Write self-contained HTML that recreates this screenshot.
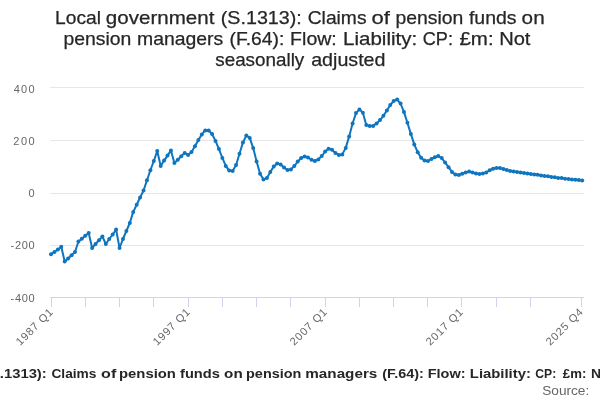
<!DOCTYPE html>
<html><head><meta charset="utf-8"><style>
html,body{margin:0;padding:0;background:#fff;width:600px;height:400px;overflow:hidden}
svg{display:block;will-change:transform}
text{font-family:"Liberation Sans",sans-serif}
</style></head><body>
<svg width="600" height="400" viewBox="0 0 600 400">
<rect width="600" height="400" fill="#fff"/>
<g stroke="#e6e6e6" stroke-width="1" fill="none"><path d="M50 87.5 H584"/><path d="M50 140.5 H584"/><path d="M50 193.5 H584"/><path d="M50 245.5 H584"/></g>
<g stroke="#ccd6eb" stroke-width="1" fill="none"><path d="M50 297.5 H584"/><path d="M51.5 297 V307"/><path d="M85.5 297 V307"/><path d="M119.5 297 V307"/><path d="M153.5 297 V307"/><path d="M188.5 297 V307"/><path d="M222.5 297 V307"/><path d="M256.5 297 V307"/><path d="M290.5 297 V307"/><path d="M325.5 297 V307"/><path d="M359.5 297 V307"/><path d="M393.5 297 V307"/><path d="M427.5 297 V307"/><path d="M461.5 297 V307"/><path d="M496.5 297 V307"/><path d="M530.5 297 V307"/><path d="M581.5 297 V307"/></g>
<g font-size="11" fill="#666666" text-anchor="end"><text transform="translate(53.60 312.8) rotate(-45)" x="0" y="0" textLength="47" lengthAdjust="spacing">1987 Q1</text><text transform="translate(190.60 312.8) rotate(-45)" x="0" y="0" textLength="47" lengthAdjust="spacing">1997 Q1</text><text transform="translate(327.60 312.8) rotate(-45)" x="0" y="0" textLength="47" lengthAdjust="spacing">2007 Q1</text><text transform="translate(463.60 312.8) rotate(-45)" x="0" y="0" textLength="47" lengthAdjust="spacing">2017 Q1</text><text transform="translate(583.60 312.8) rotate(-45)" x="0" y="0" textLength="47" lengthAdjust="spacing">2025 Q4</text></g>
<path d="M51.00 254.20 L54.43 252.00 L57.85 249.50 L61.28 246.80 L64.71 261.50 L68.14 258.50 L71.56 255.20 L74.99 252.00 L78.42 241.50 L81.84 238.80 L85.27 235.80 L88.70 233.00 L92.13 248.00 L95.55 244.00 L98.98 240.30 L102.41 236.50 L105.83 244.00 L109.26 239.00 L112.69 234.50 L116.11 229.50 L119.54 248.00 L122.97 239.00 L126.40 231.00 L129.82 222.90 L133.25 211.90 L136.68 204.75 L140.10 197.50 L143.53 190.60 L146.96 180.30 L150.39 170.25 L153.81 161.00 L157.24 151.00 L160.67 166.00 L164.09 160.60 L167.52 155.60 L170.95 150.40 L174.38 162.90 L177.80 159.75 L181.23 156.25 L184.66 152.90 L188.08 155.00 L191.51 151.90 L194.94 146.25 L198.37 140.00 L201.79 134.40 L205.22 130.40 L208.65 130.40 L212.07 134.00 L215.50 140.90 L218.93 149.00 L222.35 157.90 L225.78 165.90 L229.21 170.60 L232.64 171.00 L236.06 165.00 L239.49 153.75 L242.92 142.50 L246.34 135.60 L249.77 137.90 L253.20 148.10 L256.63 161.50 L260.05 173.75 L263.48 179.60 L266.91 177.90 L270.33 171.90 L273.76 166.50 L277.19 163.50 L280.62 164.40 L284.04 167.50 L287.47 170.00 L290.90 169.40 L294.32 166.00 L297.75 161.60 L301.18 158.00 L304.61 156.50 L308.03 157.50 L311.46 159.75 L314.89 161.00 L318.31 159.40 L321.74 156.00 L325.17 151.60 L328.59 148.75 L332.02 149.75 L335.45 152.90 L338.88 155.00 L342.30 154.40 L345.73 147.90 L349.16 136.40 L352.58 123.50 L356.01 113.10 L359.44 109.40 L362.87 112.75 L366.29 125.00 L369.72 126.00 L373.15 125.90 L376.57 123.50 L380.00 120.10 L383.43 115.80 L386.86 110.50 L390.28 104.90 L393.71 101.00 L397.14 99.60 L400.56 103.50 L403.99 112.10 L407.42 122.75 L410.85 133.90 L414.27 144.40 L417.70 152.25 L421.13 157.75 L424.55 160.60 L427.98 161.00 L431.41 159.00 L434.83 157.25 L438.26 156.00 L441.69 158.10 L445.12 162.50 L448.54 167.20 L451.97 171.90 L455.40 174.50 L458.82 175.00 L462.25 173.75 L465.68 172.50 L469.11 171.60 L472.53 172.50 L475.96 173.50 L479.39 174.10 L482.81 173.50 L486.24 172.50 L489.67 170.25 L493.10 168.75 L496.52 167.90 L499.95 168.10 L503.38 169.00 L506.80 170.00 L510.23 171.00 L513.66 171.60 L517.09 172.10 L520.51 172.50 L523.94 172.90 L527.37 173.40 L530.79 174.00 L534.22 174.60 L537.65 174.75 L541.07 175.40 L544.50 175.90 L547.93 176.25 L551.36 177.00 L554.78 177.25 L558.21 177.90 L561.64 178.10 L565.06 178.75 L568.49 179.00 L571.92 179.60 L575.35 179.75 L578.77 180.00 L582.20 180.60" fill="none" stroke="#0f75bf" stroke-width="2" stroke-linejoin="round" stroke-linecap="round"/>
<g fill="#0f75bf"><circle cx="51.00" cy="254.20" r="2"/><circle cx="54.43" cy="252.00" r="2"/><circle cx="57.85" cy="249.50" r="2"/><circle cx="61.28" cy="246.80" r="2"/><circle cx="64.71" cy="261.50" r="2"/><circle cx="68.14" cy="258.50" r="2"/><circle cx="71.56" cy="255.20" r="2"/><circle cx="74.99" cy="252.00" r="2"/><circle cx="78.42" cy="241.50" r="2"/><circle cx="81.84" cy="238.80" r="2"/><circle cx="85.27" cy="235.80" r="2"/><circle cx="88.70" cy="233.00" r="2"/><circle cx="92.13" cy="248.00" r="2"/><circle cx="95.55" cy="244.00" r="2"/><circle cx="98.98" cy="240.30" r="2"/><circle cx="102.41" cy="236.50" r="2"/><circle cx="105.83" cy="244.00" r="2"/><circle cx="109.26" cy="239.00" r="2"/><circle cx="112.69" cy="234.50" r="2"/><circle cx="116.11" cy="229.50" r="2"/><circle cx="119.54" cy="248.00" r="2"/><circle cx="122.97" cy="239.00" r="2"/><circle cx="126.40" cy="231.00" r="2"/><circle cx="129.82" cy="222.90" r="2"/><circle cx="133.25" cy="211.90" r="2"/><circle cx="136.68" cy="204.75" r="2"/><circle cx="140.10" cy="197.50" r="2"/><circle cx="143.53" cy="190.60" r="2"/><circle cx="146.96" cy="180.30" r="2"/><circle cx="150.39" cy="170.25" r="2"/><circle cx="153.81" cy="161.00" r="2"/><circle cx="157.24" cy="151.00" r="2"/><circle cx="160.67" cy="166.00" r="2"/><circle cx="164.09" cy="160.60" r="2"/><circle cx="167.52" cy="155.60" r="2"/><circle cx="170.95" cy="150.40" r="2"/><circle cx="174.38" cy="162.90" r="2"/><circle cx="177.80" cy="159.75" r="2"/><circle cx="181.23" cy="156.25" r="2"/><circle cx="184.66" cy="152.90" r="2"/><circle cx="188.08" cy="155.00" r="2"/><circle cx="191.51" cy="151.90" r="2"/><circle cx="194.94" cy="146.25" r="2"/><circle cx="198.37" cy="140.00" r="2"/><circle cx="201.79" cy="134.40" r="2"/><circle cx="205.22" cy="130.40" r="2"/><circle cx="208.65" cy="130.40" r="2"/><circle cx="212.07" cy="134.00" r="2"/><circle cx="215.50" cy="140.90" r="2"/><circle cx="218.93" cy="149.00" r="2"/><circle cx="222.35" cy="157.90" r="2"/><circle cx="225.78" cy="165.90" r="2"/><circle cx="229.21" cy="170.60" r="2"/><circle cx="232.64" cy="171.00" r="2"/><circle cx="236.06" cy="165.00" r="2"/><circle cx="239.49" cy="153.75" r="2"/><circle cx="242.92" cy="142.50" r="2"/><circle cx="246.34" cy="135.60" r="2"/><circle cx="249.77" cy="137.90" r="2"/><circle cx="253.20" cy="148.10" r="2"/><circle cx="256.63" cy="161.50" r="2"/><circle cx="260.05" cy="173.75" r="2"/><circle cx="263.48" cy="179.60" r="2"/><circle cx="266.91" cy="177.90" r="2"/><circle cx="270.33" cy="171.90" r="2"/><circle cx="273.76" cy="166.50" r="2"/><circle cx="277.19" cy="163.50" r="2"/><circle cx="280.62" cy="164.40" r="2"/><circle cx="284.04" cy="167.50" r="2"/><circle cx="287.47" cy="170.00" r="2"/><circle cx="290.90" cy="169.40" r="2"/><circle cx="294.32" cy="166.00" r="2"/><circle cx="297.75" cy="161.60" r="2"/><circle cx="301.18" cy="158.00" r="2"/><circle cx="304.61" cy="156.50" r="2"/><circle cx="308.03" cy="157.50" r="2"/><circle cx="311.46" cy="159.75" r="2"/><circle cx="314.89" cy="161.00" r="2"/><circle cx="318.31" cy="159.40" r="2"/><circle cx="321.74" cy="156.00" r="2"/><circle cx="325.17" cy="151.60" r="2"/><circle cx="328.59" cy="148.75" r="2"/><circle cx="332.02" cy="149.75" r="2"/><circle cx="335.45" cy="152.90" r="2"/><circle cx="338.88" cy="155.00" r="2"/><circle cx="342.30" cy="154.40" r="2"/><circle cx="345.73" cy="147.90" r="2"/><circle cx="349.16" cy="136.40" r="2"/><circle cx="352.58" cy="123.50" r="2"/><circle cx="356.01" cy="113.10" r="2"/><circle cx="359.44" cy="109.40" r="2"/><circle cx="362.87" cy="112.75" r="2"/><circle cx="366.29" cy="125.00" r="2"/><circle cx="369.72" cy="126.00" r="2"/><circle cx="373.15" cy="125.90" r="2"/><circle cx="376.57" cy="123.50" r="2"/><circle cx="380.00" cy="120.10" r="2"/><circle cx="383.43" cy="115.80" r="2"/><circle cx="386.86" cy="110.50" r="2"/><circle cx="390.28" cy="104.90" r="2"/><circle cx="393.71" cy="101.00" r="2"/><circle cx="397.14" cy="99.60" r="2"/><circle cx="400.56" cy="103.50" r="2"/><circle cx="403.99" cy="112.10" r="2"/><circle cx="407.42" cy="122.75" r="2"/><circle cx="410.85" cy="133.90" r="2"/><circle cx="414.27" cy="144.40" r="2"/><circle cx="417.70" cy="152.25" r="2"/><circle cx="421.13" cy="157.75" r="2"/><circle cx="424.55" cy="160.60" r="2"/><circle cx="427.98" cy="161.00" r="2"/><circle cx="431.41" cy="159.00" r="2"/><circle cx="434.83" cy="157.25" r="2"/><circle cx="438.26" cy="156.00" r="2"/><circle cx="441.69" cy="158.10" r="2"/><circle cx="445.12" cy="162.50" r="2"/><circle cx="448.54" cy="167.20" r="2"/><circle cx="451.97" cy="171.90" r="2"/><circle cx="455.40" cy="174.50" r="2"/><circle cx="458.82" cy="175.00" r="2"/><circle cx="462.25" cy="173.75" r="2"/><circle cx="465.68" cy="172.50" r="2"/><circle cx="469.11" cy="171.60" r="2"/><circle cx="472.53" cy="172.50" r="2"/><circle cx="475.96" cy="173.50" r="2"/><circle cx="479.39" cy="174.10" r="2"/><circle cx="482.81" cy="173.50" r="2"/><circle cx="486.24" cy="172.50" r="2"/><circle cx="489.67" cy="170.25" r="2"/><circle cx="493.10" cy="168.75" r="2"/><circle cx="496.52" cy="167.90" r="2"/><circle cx="499.95" cy="168.10" r="2"/><circle cx="503.38" cy="169.00" r="2"/><circle cx="506.80" cy="170.00" r="2"/><circle cx="510.23" cy="171.00" r="2"/><circle cx="513.66" cy="171.60" r="2"/><circle cx="517.09" cy="172.10" r="2"/><circle cx="520.51" cy="172.50" r="2"/><circle cx="523.94" cy="172.90" r="2"/><circle cx="527.37" cy="173.40" r="2"/><circle cx="530.79" cy="174.00" r="2"/><circle cx="534.22" cy="174.60" r="2"/><circle cx="537.65" cy="174.75" r="2"/><circle cx="541.07" cy="175.40" r="2"/><circle cx="544.50" cy="175.90" r="2"/><circle cx="547.93" cy="176.25" r="2"/><circle cx="551.36" cy="177.00" r="2"/><circle cx="554.78" cy="177.25" r="2"/><circle cx="558.21" cy="177.90" r="2"/><circle cx="561.64" cy="178.10" r="2"/><circle cx="565.06" cy="178.75" r="2"/><circle cx="568.49" cy="179.00" r="2"/><circle cx="571.92" cy="179.60" r="2"/><circle cx="575.35" cy="179.75" r="2"/><circle cx="578.77" cy="180.00" r="2"/><circle cx="582.20" cy="180.60" r="2"/></g>
<text x="55.13" y="24" font-size="18.5" fill="#262626" stroke="#262626" stroke-width="0.25" textLength="45.87" lengthAdjust="spacingAndGlyphs">Local</text>
<text x="105.84" y="24" font-size="18.5" fill="#262626" stroke="#262626" stroke-width="0.25" textLength="108.53" lengthAdjust="spacingAndGlyphs">government</text>
<text x="220.78" y="24" font-size="18.5" fill="#262626" stroke="#262626" stroke-width="0.25" textLength="81.04" lengthAdjust="spacingAndGlyphs">(S.1313):</text>
<text x="307.72" y="24" font-size="18.5" fill="#262626" stroke="#262626" stroke-width="0.25" textLength="58.79" lengthAdjust="spacingAndGlyphs">Claims</text>
<text x="371.57" y="24" font-size="18.5" fill="#262626" stroke="#262626" stroke-width="0.25" textLength="18.41" lengthAdjust="spacingAndGlyphs">of</text>
<text x="395.45" y="24" font-size="18.5" fill="#262626" stroke="#262626" stroke-width="0.25" textLength="67.83" lengthAdjust="spacingAndGlyphs">pension</text>
<text x="468.92" y="24" font-size="18.5" fill="#262626" stroke="#262626" stroke-width="0.25" textLength="47.59" lengthAdjust="spacingAndGlyphs">funds</text>
<text x="521.63" y="24" font-size="18.5" fill="#262626" stroke="#262626" stroke-width="0.25" textLength="23.02" lengthAdjust="spacingAndGlyphs">on</text>
<text x="63.45" y="45" font-size="18.5" fill="#262626" stroke="#262626" stroke-width="0.25" textLength="67.83" lengthAdjust="spacingAndGlyphs">pension</text>
<text x="137.01" y="45" font-size="18.5" fill="#262626" stroke="#262626" stroke-width="0.25" textLength="86.2" lengthAdjust="spacingAndGlyphs">managers</text>
<text x="229.6" y="45" font-size="18.5" fill="#262626" stroke="#262626" stroke-width="0.25" textLength="54.67" lengthAdjust="spacingAndGlyphs">(F.64):</text>
<text x="290.1" y="45" font-size="18.5" fill="#262626" stroke="#262626" stroke-width="0.25" textLength="46.71" lengthAdjust="spacingAndGlyphs">Flow:</text>
<text x="343.02" y="45" font-size="18.5" fill="#262626" stroke="#262626" stroke-width="0.25" textLength="74.18" lengthAdjust="spacingAndGlyphs">Liability:</text>
<text x="422.78" y="45" font-size="18.5" fill="#262626" stroke="#262626" stroke-width="0.25" textLength="30.19" lengthAdjust="spacingAndGlyphs">CP:</text>
<text x="459.42" y="45" font-size="18.5" fill="#262626" stroke="#262626" stroke-width="0.25" textLength="34.17" lengthAdjust="spacingAndGlyphs">£m:</text>
<text x="499.15" y="45" font-size="18.5" fill="#262626" stroke="#262626" stroke-width="0.25" textLength="31.32" lengthAdjust="spacingAndGlyphs">Not</text>
<text x="215.28" y="66" font-size="18.5" fill="#262626" stroke="#262626" stroke-width="0.25" textLength="88.98" lengthAdjust="spacingAndGlyphs">seasonally</text>
<text x="311.16" y="66" font-size="18.5" fill="#262626" stroke="#262626" stroke-width="0.25" textLength="74.33" lengthAdjust="spacingAndGlyphs">adjusted</text>
<text x="-0.21" y="378" font-size="12.5" font-weight="bold" fill="#262626" textLength="46.94" lengthAdjust="spacingAndGlyphs">.1313):</text>
<text x="51.44" y="378" font-size="12.5" font-weight="bold" fill="#262626" textLength="44.94" lengthAdjust="spacingAndGlyphs">Claims</text>
<text x="101.07" y="378" font-size="12.5" font-weight="bold" fill="#262626" textLength="15.23" lengthAdjust="spacingAndGlyphs">of</text>
<text x="119.02" y="378" font-size="12.5" font-weight="bold" fill="#262626" textLength="56.9" lengthAdjust="spacingAndGlyphs">pension</text>
<text x="180.05" y="378" font-size="12.5" font-weight="bold" fill="#262626" textLength="39.77" lengthAdjust="spacingAndGlyphs">funds</text>
<text x="224.11" y="378" font-size="12.5" font-weight="bold" fill="#262626" textLength="18.56" lengthAdjust="spacingAndGlyphs">on</text>
<text x="246.05" y="378" font-size="12.5" font-weight="bold" fill="#262626" textLength="55.35" lengthAdjust="spacingAndGlyphs">pension</text>
<text x="305.29" y="378" font-size="12.5" font-weight="bold" fill="#262626" textLength="72.05" lengthAdjust="spacingAndGlyphs">managers</text>
<text x="382.28" y="378" font-size="12.5" font-weight="bold" fill="#262626" textLength="41.63" lengthAdjust="spacingAndGlyphs">(F.64):</text>
<text x="427.73" y="378" font-size="12.5" font-weight="bold" fill="#262626" textLength="37.9" lengthAdjust="spacingAndGlyphs">Flow:</text>
<text x="469.81" y="378" font-size="12.5" font-weight="bold" fill="#262626" textLength="61.15" lengthAdjust="spacingAndGlyphs">Liability:</text>
<text x="535.3" y="378" font-size="12.5" font-weight="bold" fill="#262626" textLength="20.87" lengthAdjust="spacingAndGlyphs">CP:</text>
<text x="562.87" y="378" font-size="12.5" font-weight="bold" fill="#262626" textLength="23.41" lengthAdjust="spacingAndGlyphs">£m:</text>
<text x="590.97" y="378" font-size="12.5" font-weight="bold" fill="#262626" textLength="23.21" lengthAdjust="spacingAndGlyphs">Not</text>
<text x="542.18" y="395" font-size="12.5" fill="#666666" textLength="47.1" lengthAdjust="spacingAndGlyphs">Source:</text>
<text x="13.65" y="92.5" font-size="11" fill="#666666" textLength="21.04" lengthAdjust="spacing">400</text>
<text x="13.35" y="144.5" font-size="11" fill="#666666" textLength="21.34" lengthAdjust="spacing">200</text>
<text x="28.47" y="196.5" font-size="11" fill="#666666">0</text>
<text x="10.51" y="248.5" font-size="11" fill="#666666" textLength="24.14" lengthAdjust="spacing">-200</text>
<text x="10.51" y="301.5" font-size="11" fill="#666666" textLength="24.14" lengthAdjust="spacing">-400</text>
</svg>
</body></html>
